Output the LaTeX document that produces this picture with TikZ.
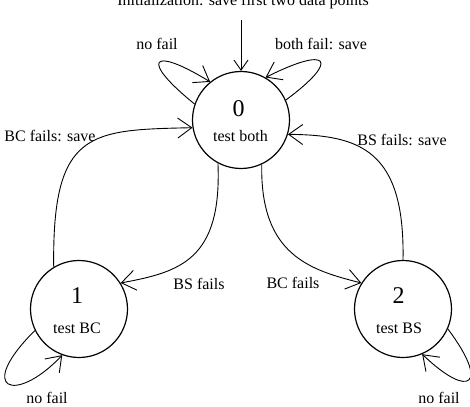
\documentclass[tikz,border=0pt]{standalone}
\usepackage{fontspec}
\setmainfont{Liberation Serif}
\usetikzlibrary{arrows.meta}
\begin{document}
\begin{tikzpicture}[x=1pt,y=-1pt,
  state/.style={circle,draw,line width=1.2pt,minimum size=97pt,inner sep=0pt},
  lbl/.style={font=\fontsize{16}{19}\selectfont,inner sep=0pt,anchor=base},
  num/.style={font=\fontsize{24}{28}\selectfont,inner sep=0pt,anchor=base},
  trans/.style={line width=0.9pt,-{Straight Barb[length=14pt,width=20pt,line width=0.9pt]}},
  startarr/.style={line width=0.9pt,-{Straight Barb[length=10pt,width=14pt,line width=0.9pt]}},
]
\useasboundingbox (0,0) rectangle (470,406);

% states
\node[state] (n0) at (241,120) {};
\node[state] (n1) at (79,309) {};
\node[state] (n2) at (403,309) {};

\node[num] (d0) at (238.5,117) {0};
\node[lbl] (t0) at (240.5,142) {test both};
\node[num] (d1) at (77,303) {1};
\node[lbl] (t1) at (77,333.5) {test BC};
\node[num] (d2) at (398.5,303) {2};
\node[lbl] (t2) at (399,333.5) {test BS};

% initial
\node[lbl] (title) at (243,5.5) {Initialization: save first two data points};
\coordinate (s) at (241,20);
\draw[startarr] (s) -- (n0.90);

% loops on 0
\draw[trans] (n0.161.6) .. controls (140,60) and (150,45) .. (n0.129);
\node[lbl] (lnf0) at (157,50) {no fail};
\draw[trans] (n0.24.4) .. controls (340,60) and (330,45) .. (n0.60.7);
\node[lbl] (lbf) at (321,50) {both fail: save};

% transitions
\draw[trans] (n1.121.5) .. controls (52,130) and (90,130) .. (n0.189.5);
\node[lbl] (lbcs) at (50,141) {BC fails: save};
\draw[trans] (n0.242.9) .. controls (222,260) and (180,272) .. (n1.32.4);
\node[lbl] (lbs) at (199,289) {BS fails};
\draw[trans] (n0.295.6) .. controls (260,255) and (310,270) .. (n2.148);
\node[lbl] (lbc) at (293,288) {BC fails};
\draw[trans] (n2.90) .. controls (405,150) and (360,135) .. (n0.343.4);
\node[lbl] (lbss) at (402,146) {BS fails: save};

% loops on 1, 2
\draw[trans] (n1.206.6) .. controls (-25,390) and (15,405) .. (n1.250.8);
\node[lbl] (lnf1) at (47,403) {no fail};
\draw[trans] (n2.336) .. controls (490,385) and (470,400) .. (n2.293.5);
\node[lbl] (lnf2) at (439,403) {no fail};
\end{tikzpicture}
\end{document}
